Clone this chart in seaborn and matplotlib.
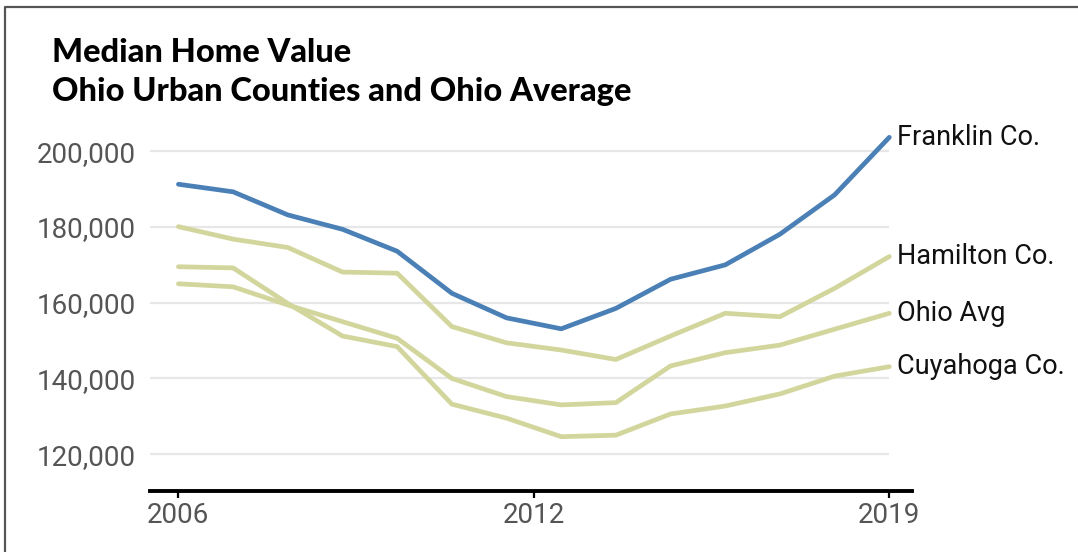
import matplotlib.pyplot as plt
import pandas as pd
import seaborn as sns
from matplotlib.lines import Line2D
from matplotlib.ticker import FuncFormatter

# Median home value by year
years = list(range(2006, 2020))
franklin = [191300, 189300, 183200, 179400, 173600, 162500, 156000,
            153100, 158500, 166200, 170000, 178100, 188500, 203700]
hamilton = [180100, 176800, 174600, 168100, 167800, 153700, 149400,
            147500, 145000, 151200, 157200, 156300, 163800, 172200]
ohio_avg = [165000, 164200, 159400, 155000, 150600, 140000, 135200,
            133000, 133600, 143300, 146800, 148800, 153000, 157200]
cuyahoga = [169500, 169200, 159800, 151200, 148400, 133200, 129500,
            124600, 125000, 130600, 132700, 135900, 140600, 143100]

series_names = ["Franklin Co.", "Hamilton Co.", "Ohio Avg", "Cuyahoga Co."]
series_values = [franklin, hamilton, ohio_avg, cuyahoga]
y_ticks = [120000, 140000, 160000, 180000, 200000]
x_ticks = [2006, 2012.5, 2019]
x_tick_labels = ["2006", "2012", "2019"]

BLUE = "#4a80b6"
OLIVE = "#d3d69c"
palette = {"Franklin Co.": BLUE, "Hamilton Co.": OLIVE,
           "Ohio Avg": OLIVE, "Cuyahoga Co.": OLIVE}

df = pd.DataFrame(
    [(name, yr, val)
     for name, vals in zip(series_names, series_values)
     for yr, val in zip(years, vals)],
    columns=["series", "year", "value"],
)

sns.set_theme(style="white")
plt.rcParams["font.family"] = ["Roboto", "DejaVu Sans"]

fig = plt.figure(figsize=(10.78, 5.52), dpi=100)
ax = fig.add_axes([150 / 1078, 61 / 552, 762 / 1078, 358.6 / 552])

# olive lines first so the blue one sits on top
order = ["Cuyahoga Co.", "Ohio Avg", "Hamilton Co.", "Franklin Co."]
sns.lineplot(data=df, x="year", y="value", hue="series", hue_order=order,
             palette=palette, linewidth=3.4, legend=False, ax=ax)

x_left, x_right = 2005.48, 2019.415
ax.set_xlim(x_left, x_right)
ax.set_ylim(110250, 205000)

ax.hlines(y_ticks, x_left, 2019, color="#e7e7e7", linewidth=1.6, zorder=0)

ax.set_yticks(y_ticks)
ax.yaxis.set_major_formatter(FuncFormatter(lambda v, _: f"{v:,.0f}"))
ax.set_xticks(x_ticks)
ax.set_xticklabels(x_tick_labels)
ax.set(xlabel="", ylabel="")

for side in ["top", "right", "left"]:
    ax.spines[side].set_visible(False)
ax.spines["bottom"].set_linewidth(2.8)
ax.spines["bottom"].set_color("black")

ax.tick_params(axis="y", length=0, pad=10, labelsize=20, labelcolor="#555555")
ax.tick_params(axis="x", length=5, width=1.6, color="black", direction="out",
               pad=3, labelsize=20, labelcolor="#555555", bottom=True)

for name, vals in zip(series_names, series_values):
    ax.text(years[-1] + 0.14, vals[-1], name, ha="left", va="center",
            fontsize=19.5, color="#111111", clip_on=False)

title_font = dict(fontsize=23.5, fontweight=900, color="black",
                  family=["Lato", "DejaVu Sans"], va="baseline")
fig.text(52 / 1078, 1 - 62 / 552, "Median Home Value", **title_font)
fig.text(52 / 1078, 1 - 101 / 552, "Ohio Urban Counties and Ohio Average",
         **title_font)

# frame on the top and left edges
fig.add_artist(Line2D([5 / 1078, 5 / 1078, 1], [0, 1 - 7 / 552, 1 - 7 / 552],
                      color="#555555", linewidth=1.6,
                      transform=fig.transFigure))

fig.savefig("out.png", dpi=100)
